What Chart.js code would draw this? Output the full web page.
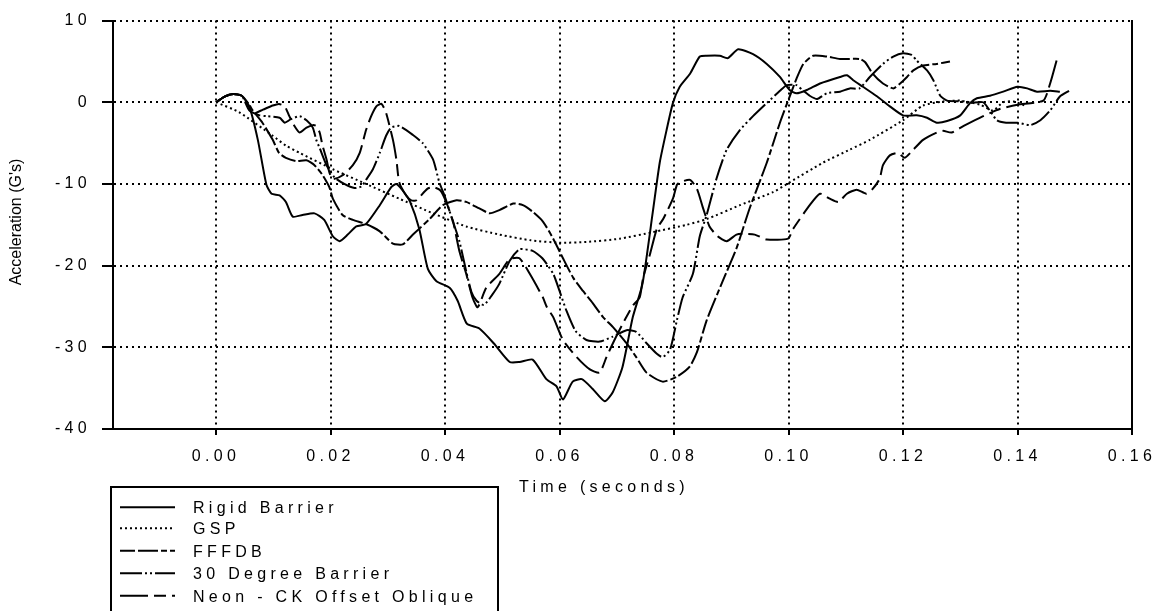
<!DOCTYPE html>
<html>
<head>
<meta charset="utf-8">
<script src="https://cdn.jsdelivr.net/npm/chart.js@4.4.1/dist/chart.umd.min.js"></script>
<style>
    html, body { margin: 0; padding: 0; background: #fff; }
    #grafico { display: block; }
</style>
</head>
<body>
<canvas id="grafico" width="1161" height="611"></canvas>
<script>
// ================= DADOS (tempo em s, aceleração em G) =================
const rigidBarrier = [
    [0, 0], [0.0015, 0.7], [0.003, 1.0], [0.0045, 0.8], [0.0058, -0.5], [0.0073, -4.6], [0.0088, -10.1],
    [0.0097, -11.2], [0.0111, -11.4], [0.0122, -12.2], [0.0134, -14.0], [0.0151, -13.8], [0.0172, -13.6],
    [0.0189, -14.4], [0.0204, -16.4], [0.0216, -17.0], [0.023, -16.2], [0.0245, -15.2], [0.0262, -14.9],
    [0.0286, -12.6], [0.0306, -10.4], [0.0315, -10.0], [0.0326, -10.8], [0.0339, -12.2], [0.0355, -15.5],
    [0.037, -20.4], [0.0385, -21.9], [0.0408, -22.7], [0.0422, -24.3], [0.0438, -27.1], [0.046, -27.7],
    [0.0485, -29.5], [0.0513, -31.8], [0.053, -31.8], [0.0553, -31.5], [0.0577, -33.9], [0.0595, -34.8],
    [0.0606, -36.4], [0.0623, -34.2], [0.0639, -33.9], [0.0658, -35.1], [0.0679, -36.6], [0.0693, -35.5],
    [0.071, -32.4], [0.0728, -26.3], [0.0745, -22.2], [0.0763, -13.4], [0.0775, -7.4], [0.0787, -3.4],
    [0.0798, -0.1], [0.081, 1.9], [0.0828, 3.5], [0.0845, 5.6], [0.0857, 5.7], [0.088, 5.7], [0.0894, 5.4],
    [0.0912, 6.5], [0.0938, 5.9], [0.0962, 4.7], [0.0985, 3.1], [0.1002, 1.5], [0.1014, 1.1], [0.1032, 1.5],
    [0.1055, 2.3], [0.109, 3.1], [0.1102, 3.3], [0.1113, 2.7], [0.113, 1.9], [0.1155, 0.7], [0.1177, -0.5],
    [0.12, -1.6], [0.1224, -1.6], [0.1242, -1.9], [0.1259, -2.5], [0.1277, -2.3], [0.13, -1.6], [0.1317, -0.1],
    [0.1329, 0.5], [0.1352, 0.8], [0.1375, 1.3], [0.14, 1.9], [0.1417, 1.7], [0.1434, 1.3], [0.1457, 1.4],
    [0.1474, 1.3]
];

const gsp = [
    [0, 0], [0.004, -1.2], [0.0099, -4.1], [0.0122, -5.3], [0.0146, -6.2], [0.0204, -8.2], [0.0262, -10.0],
    [0.032, -11.8], [0.0379, -13.6], [0.0437, -15.2], [0.0495, -16.2], [0.055, -16.9], [0.06, -17.2],
    [0.0647, -17.1], [0.0705, -16.7], [0.0763, -15.9], [0.0822, -15.0], [0.0857, -14.3], [0.0915, -12.6],
    [0.0973, -11.0], [0.1002, -9.8], [0.106, -7.4], [0.1107, -5.8], [0.1142, -4.6], [0.12, -2.2],
    [0.1235, -0.4], [0.127, 0.1], [0.13, 0.2], [0.1335, -0.3], [0.1357, -1.0], [0.1375, 0.0], [0.1393, 0.1],
    [0.1416, -0.5]
];

const fffdb = [
    [0, 0], [0.0015, 0.7], [0.003, 1.0], [0.0045, 0.8], [0.0058, -0.3], [0.0064, -1.0], [0.0081, -2.5],
    [0.0099, -4.6], [0.011, -6.2], [0.0122, -6.8], [0.014, -7.2], [0.0158, -7.1], [0.0172, -7.7],
    [0.0186, -8.9], [0.0198, -10.4], [0.0204, -11.8], [0.0221, -13.8], [0.0239, -14.4], [0.0262, -14.9],
    [0.0286, -15.8], [0.0309, -17.3], [0.0326, -17.4], [0.0344, -16.2], [0.0373, -14.3], [0.0396, -12.6],
    [0.042, -12.0], [0.0437, -12.2], [0.046, -13.0], [0.0478, -13.6], [0.0495, -13.2], [0.0519, -12.4],
    [0.0536, -12.6], [0.0553, -13.4], [0.0571, -14.6], [0.0589, -16.7], [0.0606, -19.1], [0.0624, -21.5],
    [0.0641, -23.1], [0.0658, -24.6], [0.0676, -26.3], [0.0693, -27.5], [0.0717, -29.5], [0.0734, -31.2],
    [0.0752, -33.1], [0.078, -34.2], [0.0805, -33.6], [0.0827, -32.4], [0.084, -30.6], [0.0857, -26.7],
    [0.0885, -21.9], [0.0909, -17.9], [0.0932, -13.0], [0.0962, -7.4], [0.0985, -2.5], [0.1002, 0.7],
    [0.1014, 2.9], [0.1026, 4.7], [0.1043, 5.7], [0.1067, 5.6], [0.109, 5.3], [0.1125, 5.3], [0.1134, 4.9],
    [0.1147, 3.5], [0.1165, 2.3], [0.1183, 1.7], [0.1195, 2.3], [0.1207, 3.1], [0.1218, 3.9], [0.1235, 4.5],
    [0.1259, 4.7], [0.1282, 5.0]
];

const thirtyDegree = [
    [0, 0], [0.0015, 0.7], [0.003, 1.0], [0.0045, 0.8], [0.0058, -1.0], [0.0076, -1.6], [0.0088, -1.7],
    [0.0111, -1.9], [0.012, -2.5], [0.013, -2.1], [0.0146, -1.7], [0.0158, -2.2], [0.0169, -3.1],
    [0.0175, -4.6], [0.0181, -5.6], [0.0193, -7.7], [0.0207, -9.2], [0.0224, -10.0], [0.0242, -10.5],
    [0.0254, -10.3], [0.0262, -9.5], [0.0274, -8.2], [0.0286, -6.2], [0.0297, -4.1], [0.0306, -3.1],
    [0.032, -2.9], [0.0344, -4.0], [0.0361, -5.0], [0.0379, -7.0], [0.039, -9.8], [0.04, -11.6],
    [0.0411, -14.0], [0.0425, -17.0], [0.0437, -20.7], [0.0446, -23.2], [0.0455, -24.3], [0.0468, -24.8],
    [0.0482, -23.6], [0.0495, -22.2], [0.0513, -19.4], [0.053, -18.0], [0.0553, -18.2], [0.057, -19.1],
    [0.0589, -21.0], [0.06, -23.1], [0.0612, -25.5], [0.0628, -28.0], [0.0647, -29.1], [0.067, -29.3],
    [0.0693, -28.7], [0.0717, -27.9], [0.0734, -28.1], [0.0752, -29.5], [0.077, -30.8], [0.078, -31.2],
    [0.0793, -30.3], [0.0805, -26.7], [0.0815, -23.9], [0.0833, -21.0], [0.0845, -16.4], [0.0857, -13.8],
    [0.0874, -9.4], [0.0892, -5.8], [0.0915, -3.4], [0.0938, -1.7], [0.0962, -0.1], [0.0985, 1.4],
    [0.0997, 2.1], [0.1014, 2.1], [0.1026, 1.4], [0.1037, 0.8], [0.105, 0.4], [0.1067, 1.1], [0.109, 1.3],
    [0.1107, 1.7], [0.1124, 1.7], [0.1142, 3.1], [0.1165, 4.7], [0.1183, 5.6], [0.12, 6.0], [0.1215, 5.8],
    [0.1224, 5.1], [0.1242, 3.9], [0.1253, 2.7], [0.1265, 0.8], [0.1277, 0.2], [0.13, 0.1], [0.1317, -0.1],
    [0.134, 0.0], [0.1364, -2.2], [0.138, -2.5], [0.14, -2.5], [0.1422, -2.8], [0.144, -2.2], [0.1457, -1.0],
    [0.1474, 0.7], [0.149, 1.4]
];

const neonOffset = [
    [0, 0], [0.0015, 0.7], [0.003, 1.0], [0.0045, 0.8], [0.0058, -0.6], [0.0064, -1.4], [0.0082, -0.9],
    [0.0099, -0.4], [0.011, -0.2], [0.012, -0.5], [0.0128, -1.7], [0.0137, -2.9], [0.0146, -3.7],
    [0.0158, -3.1], [0.0169, -2.8], [0.0175, -2.9], [0.0181, -3.7], [0.0186, -5.3], [0.0193, -7.0],
    [0.0198, -8.6], [0.0204, -9.4], [0.0222, -8.9], [0.0239, -7.7], [0.0251, -6.2], [0.0262, -3.4],
    [0.0271, -1.7], [0.028, -0.5], [0.0289, -0.2], [0.0297, -1.3], [0.0309, -4.6], [0.0315, -7.0],
    [0.032, -9.8], [0.0332, -11.4], [0.0341, -12.0], [0.035, -12.0], [0.0369, -10.6], [0.038, -10.4],
    [0.0392, -10.8], [0.0402, -12.2], [0.0414, -14.6], [0.0425, -18.2], [0.0437, -21.0], [0.0448, -23.9],
    [0.0457, -25.1], [0.0472, -22.7], [0.0495, -21.0], [0.0513, -19.2], [0.053, -19.1], [0.0548, -21.0],
    [0.0571, -23.9], [0.0578, -25.1], [0.0589, -26.3], [0.0606, -29.1], [0.063, -31.2], [0.0653, -32.7],
    [0.067, -33.1], [0.0682, -31.2], [0.0696, -29.1], [0.0709, -27.3], [0.0728, -24.9], [0.074, -23.9],
    [0.0746, -21.5], [0.0758, -18.6], [0.077, -15.5], [0.0781, -14.3], [0.0798, -11.8], [0.0805, -10.1],
    [0.081, -9.8], [0.0828, -9.5], [0.084, -10.6], [0.085, -12.8], [0.0862, -15.2], [0.0876, -16.4],
    [0.0892, -17.0], [0.0909, -16.2], [0.092, -16.1], [0.0941, -16.2], [0.0962, -16.8], [0.0999, -16.7],
    [0.1008, -15.5], [0.1037, -12.6], [0.1055, -11.2], [0.1072, -11.8], [0.1087, -12.2], [0.1102, -11.2],
    [0.1119, -10.7], [0.1136, -11.2], [0.1147, -10.6], [0.1159, -9.4], [0.1165, -7.7], [0.1177, -6.5],
    [0.1191, -6.2], [0.1203, -6.8], [0.1218, -5.8], [0.1235, -4.6], [0.1259, -3.7], [0.127, -3.5],
    [0.1285, -3.7], [0.1306, -2.9], [0.134, -1.7], [0.137, -0.8], [0.14, -0.3], [0.1445, 0.2],
    [0.1457, 2.3], [0.1469, 5.3]
];

const ticksTempo = [0, 0.02, 0.04, 0.06, 0.08, 0.10, 0.12, 0.14, 0.16];
const ticksAceleracao = [-40, -30, -20, -10, 0, 10];

// ================= ESTILO =================
const FONTE = '"Liberation Sans", Arial, sans-serif';
const ESPACO_LETRAS = '4.3px';

const paraPontos = serie => serie.map(p => ({ x: p[0], y: p[1] }));

function serie(label, dados, tracejado) {
    return {
        label: label,
        data: paraPontos(dados),
        borderColor: '#000',
        borderWidth: 2,
        borderDash: tracejado,
        pointRadius: 0,
        tension: 0.2,
        fill: false
    };
}

// Títulos dos eixos e a caixa de legenda desenhados à mão
const extras = {
    id: 'extras',
    beforeDraw(chart) {
        chart.ctx.letterSpacing = ESPACO_LETRAS;
    },
    afterDraw(chart) {
        const ctx = chart.ctx;
        ctx.save();
        ctx.fillStyle = '#000';
        ctx.strokeStyle = '#000';
        ctx.font = '16px ' + FONTE;

        // título do eixo X
        ctx.letterSpacing = ESPACO_LETRAS;
        ctx.textAlign = 'left';
        ctx.textBaseline = 'alphabetic';
        ctx.fillText('Time (seconds)', 519, 491.5);

        // título do eixo Y (sem espaçamento extra)
        ctx.save();
        ctx.letterSpacing = '0px';
        ctx.translate(17, 222);
        ctx.rotate(-Math.PI / 2);
        ctx.textAlign = 'center';
        ctx.textBaseline = 'middle';
        ctx.fillText("Acceleration (G's)", 0, 0);
        ctx.restore();

        // legenda
        ctx.lineWidth = 2;
        ctx.setLineDash([]);
        ctx.strokeRect(111, 487, 387, 200);
        const linhas = [507.3, 528.3, 550.7, 573.3, 595.7];
        chart.data.datasets.forEach((ds, i) => {
            const y = linhas[i];
            ctx.setLineDash(ds.borderDash || []);
            ctx.beginPath();
            ctx.moveTo(120, y);
            ctx.lineTo(175, y);
            ctx.stroke();
            ctx.setLineDash([]);
            ctx.fillText(ds.label, 193, y + 5.8);
        });
        ctx.restore();
        ctx.letterSpacing = '0px';
    }
};

const eixoComum = {
    grid: { color: '#000', lineWidth: 2, tickColor: '#000', tickWidth: 2 },
    border: { color: '#000', width: 2, dash: [2, 4] }
};

const ctx = document.getElementById('grafico').getContext('2d');

new Chart(ctx, {
    type: 'line',
    data: {
        datasets: [
            serie('Rigid Barrier', rigidBarrier, []),
            serie('GSP', gsp, [2, 3]),
            serie('FFFDB', fffdb, [15, 3, 20, 3, 6, 3]),
            serie('30 Degree Barrier', thirtyDegree, [22, 3, 2, 3, 2, 3]),
            serie('Neon - CK Offset Oblique', neonOffset, [28, 6, 12, 6])
        ]
    },
    options: {
        responsive: false,
        animation: false,
        layout: { padding: { top: 15, right: 29, bottom: 0, left: 0 } },
        plugins: {
            legend: { display: false },
            tooltip: { enabled: false }
        },
        scales: {
            x: {
                type: 'linear',
                min: -0.018,
                max: 0.16,
                afterBuildTicks: s => { s.ticks = ticksTempo.map(v => ({ value: v })); },
                afterFit: s => { s.height = 182; },
                ticks: {
                    color: '#000',
                    font: { family: FONTE, size: 16 },
                    padding: 12,
                    maxRotation: 0,
                    autoSkip: false,
                    callback: v => Number(v).toFixed(2)
                },
                grid: { ...eixoComum.grid, tickLength: 6 },
                border: eixoComum.border
            },
            y: {
                min: -40,
                max: 10,
                afterBuildTicks: s => { s.ticks = ticksAceleracao.map(v => ({ value: v })); },
                afterFit: s => { s.width = 113; },
                ticks: {
                    color: '#000',
                    font: { family: FONTE, size: 16 },
                    padding: 11
                },
                grid: { ...eixoComum.grid, tickLength: 11 },
                border: eixoComum.border
            },
            y2: {
                position: 'right',
                min: -40,
                max: 10,
                afterFit: s => { s.width = 0; },
                ticks: { display: false },
                grid: { drawOnChartArea: false, drawTicks: false },
                border: { color: '#000', width: 2 }
            }
        }
    },
    plugins: [extras]
});
</script>
</body>
</html>
